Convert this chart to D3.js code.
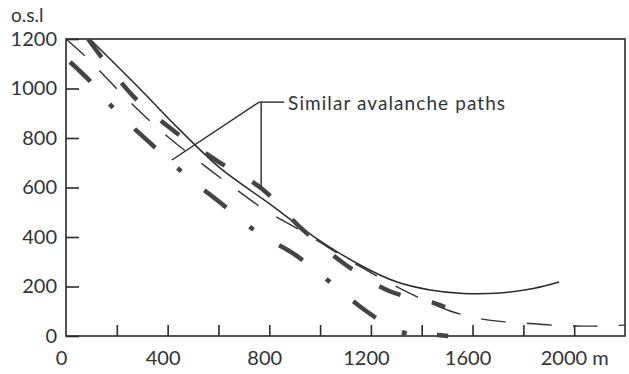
<!DOCTYPE html>
<html>
<head>
<meta charset="utf-8">
<script src="https://cdn.jsdelivr.net/npm/d3@7"></script>
<style>
  body { margin: 0; background: #fff; }
  svg text { font-family: Lato, 'Open Sans', sans-serif; fill: #333; }
</style>
</head>
<body>
<div id="chart"></div>
<script>
// profile data: distance (m), elevation (m a.s.l.)
const xTicks = [0, 200, 400, 600, 800, 1000, 1200, 1400, 1600, 1800, 2000];
const xLabels = [0, 400, 800, 1200, 1600, 2000];
const yTicks = [0, 200, 400, 600, 800, 1000, 1200];

// main path (solid)
const pathMain = [
  [94, 1200], [303, 986], [409, 873], [606, 679], [803, 533], [972, 404],
  [1157, 287], [1303, 218], [1433, 186], [1563, 172], [1709, 174], [1839, 192], [1941, 218]
];
// thin long dashes
const pathA = [
  [0, 1200], [83, 1123], [224, 974], [370, 832], [516, 711], [657, 602], [795, 501],
  [921, 428], [1146, 287], [1366, 166], [1512, 101], [1657, 65], [1795, 53], [1945, 42],
  [2075, 40], [2200, 44]
];
// heavy dashes
const pathB = [
  [87, 1200], [260, 974], [425, 828], [602, 703], [772, 594], [925, 436],
  [1102, 287], [1272, 182], [1449, 133], [1492, 117]
];
// heavy dash-dot
const pathC = [
  [16, 1107], [102, 1022], [193, 913], [335, 776], [480, 642], [614, 533], [756, 416],
  [898, 331], [1039, 218], [1181, 101], [1319, 16], [1465, 4], [1504, 0]
];

const W = 629, H = 374;
const svg = d3.select('#chart').append('svg').attr('width', W).attr('height', H);

const x = d3.scaleLinear().domain([0, 2200]).range([66, 625]);
const y = d3.scaleLinear().domain([0, 1200]).range([336, 39]);

// frame
svg.append('rect')
  .attr('x', x(0)).attr('y', y(1200))
  .attr('width', x(2200) - x(0)).attr('height', y(0) - y(1200))
  .attr('fill', 'none').attr('stroke', '#2a2a2a').attr('stroke-width', 1.6);

// axes
const yAxis = svg.append('g')
  .attr('transform', `translate(${x(0)},0)`)
  .call(d3.axisLeft(y).tickValues(yTicks).tickSize(-13).tickPadding(9).tickFormat(d3.format('d')));
const xAxis = svg.append('g')
  .attr('transform', `translate(0,${y(0)})`)
  .call(d3.axisBottom(x).tickValues(xTicks).tickSize(-11).tickPadding(15)
    .tickFormat(d => xLabels.includes(d) ? (d === 2000 ? '2000 m' : d) : ''));

[yAxis, xAxis].forEach(a => {
  a.select('.domain').remove();
  a.selectAll('line').attr('stroke', '#2a2a2a').attr('stroke-width', 1.6);
  a.selectAll('text').style('font-size', '20px').attr('fill', '#333');
});
xAxis.selectAll('.tick').filter(d => d === 0).select('line').remove();
xAxis.selectAll('.tick text').attr('dx', -5);
xAxis.selectAll('.tick').filter(d => d === 2000).select('text')
  .attr('text-anchor', 'start').attr('dx', -34);

svg.append('text').attr('x', 11).attr('y', 22).style('font-size', '19px').text('o.s.l');

const line = d3.line().x(d => x(d[0])).y(d => y(d[1])).curve(d3.curveCatmullRom.alpha(0.5));

svg.append('path').datum(pathA).attr('d', line)
  .attr('fill', 'none').attr('stroke', '#333').attr('stroke-width', 1.4)
  .attr('stroke-dasharray', '25,21');

svg.append('path').datum(pathMain).attr('d', line)
  .attr('fill', 'none').attr('stroke', '#2a2a2a').attr('stroke-width', 1.5);

svg.append('path').datum(pathB).attr('d', line)
  .attr('fill', 'none').attr('stroke', '#444').attr('stroke-width', 4.5)
  .attr('stroke-dasharray', '23,32');

svg.append('path').datum(pathC).attr('d', line)
  .attr('fill', 'none').attr('stroke', '#444').attr('stroke-width', 4.5)
  .attr('stroke-dasharray', '28,30,5,30');

// annotation with leader lines
const note = { text: 'Similar avalanche paths', at: [874, 913], joint: [760, 945], toA: [417, 711], toB: [768, 606] };
const lead = svg.append('g').attr('stroke', '#2a2a2a').attr('stroke-width', 1.4).attr('fill', 'none');
lead.append('line').attr('x1', x(note.joint[0])).attr('y1', y(note.joint[1]))
  .attr('x2', x(note.at[0]) - 4).attr('y2', y(note.joint[1]));
lead.append('line').attr('x1', x(note.joint[0])).attr('y1', y(note.joint[1]))
  .attr('x2', x(note.toA[0])).attr('y2', y(note.toA[1]));
lead.append('line').attr('x1', x(note.toB[0])).attr('y1', y(note.joint[1]))
  .attr('x2', x(note.toB[0])).attr('y2', y(note.toB[1]));
svg.append('text').attr('x', x(note.at[0])).attr('y', y(note.at[1]))
  .style('font-size', '19px').attr('fill', '#444')
  .attr('textLength', 217).attr('lengthAdjust', 'spacing').text(note.text);
</script>
</body>
</html>
